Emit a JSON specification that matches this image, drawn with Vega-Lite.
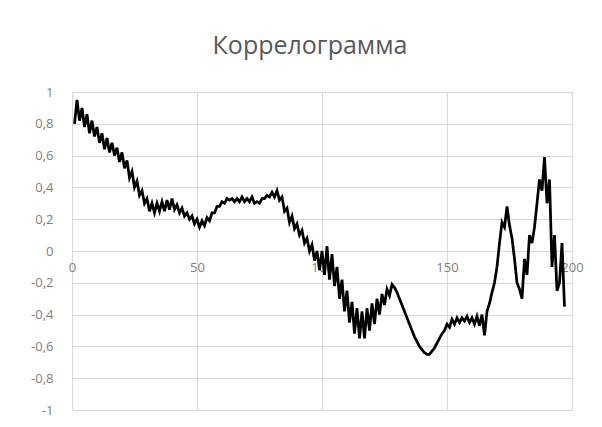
{
  "$schema": "https://vega.github.io/schema/vega-lite/v6.json",
  "width": 500,
  "height": 318,
  "autosize": {"type": "none"},
  "padding": {"left": 72, "top": 92, "right": 30, "bottom": 17},
  "background": "white",
  "title": {
    "text": "Коррелограмма",
    "font": "Open Sans",
    "fontSize": 25,
    "fontWeight": "normal",
    "color": "#595959",
    "anchor": "middle",
    "dx": -12,
    "offset": 27
  },
  "config": {
    "view": {"stroke": null},
    "axis": {
      "labelFont": "Open Sans",
      "labelFontSize": 13,
      "labelColor": "#808080",
      "gridColor": "#d9d9d9",
      "gridWidth": 1,
      "ticks": false,
      "domain": false,
      "title": null
    }
  },
  "data": {
    "values": [
      {"lag": 1, "r": 0.80}, {"lag": 2, "r": 0.95}, {"lag": 3, "r": 0.82}, {"lag": 4, "r": 0.90}, {"lag": 5, "r": 0.78},
      {"lag": 6, "r": 0.86}, {"lag": 7, "r": 0.74}, {"lag": 8, "r": 0.82}, {"lag": 9, "r": 0.72}, {"lag": 10, "r": 0.78},
      {"lag": 11, "r": 0.68}, {"lag": 12, "r": 0.74}, {"lag": 13, "r": 0.64}, {"lag": 14, "r": 0.71}, {"lag": 15, "r": 0.62},
      {"lag": 16, "r": 0.68}, {"lag": 17, "r": 0.60}, {"lag": 18, "r": 0.65}, {"lag": 19, "r": 0.56}, {"lag": 20, "r": 0.62},
      {"lag": 21, "r": 0.52}, {"lag": 22, "r": 0.57}, {"lag": 23, "r": 0.46}, {"lag": 24, "r": 0.50}, {"lag": 25, "r": 0.40},
      {"lag": 26, "r": 0.44}, {"lag": 27, "r": 0.35}, {"lag": 28, "r": 0.38}, {"lag": 29, "r": 0.30}, {"lag": 30, "r": 0.33},
      {"lag": 31, "r": 0.25}, {"lag": 32, "r": 0.30}, {"lag": 33, "r": 0.24}, {"lag": 34, "r": 0.30}, {"lag": 35, "r": 0.25},
      {"lag": 36, "r": 0.31}, {"lag": 37, "r": 0.25}, {"lag": 38, "r": 0.32}, {"lag": 39, "r": 0.26}, {"lag": 40, "r": 0.33},
      {"lag": 41, "r": 0.26}, {"lag": 42, "r": 0.29}, {"lag": 43, "r": 0.24}, {"lag": 44, "r": 0.27}, {"lag": 45, "r": 0.22},
      {"lag": 46, "r": 0.24}, {"lag": 47, "r": 0.20}, {"lag": 48, "r": 0.22}, {"lag": 49, "r": 0.17}, {"lag": 50, "r": 0.20},
      {"lag": 51, "r": 0.15}, {"lag": 52, "r": 0.19}, {"lag": 53, "r": 0.16}, {"lag": 54, "r": 0.21}, {"lag": 55, "r": 0.19},
      {"lag": 56, "r": 0.24}, {"lag": 57, "r": 0.24}, {"lag": 58, "r": 0.28}, {"lag": 59, "r": 0.28}, {"lag": 60, "r": 0.31},
      {"lag": 61, "r": 0.30}, {"lag": 62, "r": 0.33}, {"lag": 63, "r": 0.32}, {"lag": 64, "r": 0.33}, {"lag": 65, "r": 0.31},
      {"lag": 66, "r": 0.33}, {"lag": 67, "r": 0.31}, {"lag": 68, "r": 0.34}, {"lag": 69, "r": 0.31}, {"lag": 70, "r": 0.33},
      {"lag": 71, "r": 0.31}, {"lag": 72, "r": 0.34}, {"lag": 73, "r": 0.30}, {"lag": 74, "r": 0.31}, {"lag": 75, "r": 0.30},
      {"lag": 76, "r": 0.33}, {"lag": 77, "r": 0.33}, {"lag": 78, "r": 0.35}, {"lag": 79, "r": 0.34}, {"lag": 80, "r": 0.37},
      {"lag": 81, "r": 0.34}, {"lag": 82, "r": 0.38}, {"lag": 83, "r": 0.32}, {"lag": 84, "r": 0.34}, {"lag": 85, "r": 0.25},
      {"lag": 86, "r": 0.27}, {"lag": 87, "r": 0.18}, {"lag": 88, "r": 0.22}, {"lag": 89, "r": 0.14}, {"lag": 90, "r": 0.17},
      {"lag": 91, "r": 0.10}, {"lag": 92, "r": 0.13}, {"lag": 93, "r": 0.05}, {"lag": 94, "r": 0.08}, {"lag": 95, "r": 0.00},
      {"lag": 96, "r": 0.04}, {"lag": 97, "r": -0.06}, {"lag": 98, "r": 0.00}, {"lag": 99, "r": -0.12}, {"lag": 100, "r": 0.00},
      {"lag": 101, "r": -0.15}, {"lag": 102, "r": 0.03}, {"lag": 103, "r": -0.18}, {"lag": 104, "r": -0.02}, {"lag": 105, "r": -0.22},
      {"lag": 106, "r": -0.10}, {"lag": 107, "r": -0.30}, {"lag": 108, "r": -0.18}, {"lag": 109, "r": -0.38}, {"lag": 110, "r": -0.25},
      {"lag": 111, "r": -0.45}, {"lag": 112, "r": -0.32}, {"lag": 113, "r": -0.52}, {"lag": 114, "r": -0.36}, {"lag": 115, "r": -0.55},
      {"lag": 116, "r": -0.38}, {"lag": 117, "r": -0.55}, {"lag": 118, "r": -0.36}, {"lag": 119, "r": -0.50}, {"lag": 120, "r": -0.33},
      {"lag": 121, "r": -0.46}, {"lag": 122, "r": -0.30}, {"lag": 123, "r": -0.40}, {"lag": 124, "r": -0.27}, {"lag": 125, "r": -0.34},
      {"lag": 126, "r": -0.24}, {"lag": 127, "r": -0.28}, {"lag": 128, "r": -0.21}, {"lag": 129, "r": -0.23}, {"lag": 130, "r": -0.26},
      {"lag": 131, "r": -0.30}, {"lag": 132, "r": -0.34}, {"lag": 133, "r": -0.38}, {"lag": 134, "r": -0.42}, {"lag": 135, "r": -0.46},
      {"lag": 136, "r": -0.50}, {"lag": 137, "r": -0.54}, {"lag": 138, "r": -0.57}, {"lag": 139, "r": -0.60}, {"lag": 140, "r": -0.62},
      {"lag": 141, "r": -0.64}, {"lag": 142, "r": -0.65}, {"lag": 143, "r": -0.65}, {"lag": 144, "r": -0.63}, {"lag": 145, "r": -0.61},
      {"lag": 146, "r": -0.58}, {"lag": 147, "r": -0.55}, {"lag": 148, "r": -0.52}, {"lag": 149, "r": -0.50}, {"lag": 150, "r": -0.46},
      {"lag": 151, "r": -0.48}, {"lag": 152, "r": -0.43}, {"lag": 153, "r": -0.46}, {"lag": 154, "r": -0.42}, {"lag": 155, "r": -0.45},
      {"lag": 156, "r": -0.42}, {"lag": 157, "r": -0.44}, {"lag": 158, "r": -0.41}, {"lag": 159, "r": -0.45}, {"lag": 160, "r": -0.42},
      {"lag": 161, "r": -0.46}, {"lag": 162, "r": -0.41}, {"lag": 163, "r": -0.47}, {"lag": 164, "r": -0.40}, {"lag": 165, "r": -0.53},
      {"lag": 166, "r": -0.38}, {"lag": 167, "r": -0.33}, {"lag": 168, "r": -0.26}, {"lag": 169, "r": -0.20}, {"lag": 170, "r": -0.10},
      {"lag": 171, "r": 0.05}, {"lag": 172, "r": 0.18}, {"lag": 173, "r": 0.15}, {"lag": 174, "r": 0.28}, {"lag": 175, "r": 0.16},
      {"lag": 176, "r": 0.08}, {"lag": 177, "r": -0.05}, {"lag": 178, "r": -0.20}, {"lag": 179, "r": -0.24}, {"lag": 180, "r": -0.30},
      {"lag": 181, "r": -0.05}, {"lag": 182, "r": -0.15}, {"lag": 183, "r": 0.10}, {"lag": 184, "r": 0.05}, {"lag": 185, "r": 0.15},
      {"lag": 186, "r": 0.30}, {"lag": 187, "r": 0.45}, {"lag": 188, "r": 0.38}, {"lag": 189, "r": 0.59}, {"lag": 190, "r": 0.30},
      {"lag": 191, "r": 0.45}, {"lag": 192, "r": -0.10}, {"lag": 193, "r": 0.10}, {"lag": 194, "r": -0.25}, {"lag": 195, "r": -0.20},
      {"lag": 196, "r": 0.05}, {"lag": 197, "r": -0.35}
    ]
  },
  "mark": {"type": "line", "color": "#000000", "strokeWidth": 2.75, "strokeJoin": "miter", "clip": false},
  "encoding": {
    "x": {
      "field": "lag",
      "type": "quantitative",
      "scale": {"domain": [0, 200], "nice": false},
      "axis": {
        "values": [0, 50, 100, 150, 200],
        "offset": -159,
        "labelPadding": 10,
        "labelFlush": false,
        "grid": true
      }
    },
    "y": {
      "field": "r",
      "type": "quantitative",
      "scale": {"domain": [-1, 1], "nice": false},
      "axis": {
        "values": [-1, -0.8, -0.6, -0.4, -0.2, 0, 0.2, 0.4, 0.6, 0.8, 1],
        "labelPadding": 19,
        "labelExpr": "replace(replace(format(datum.value, '.1~f'), '.', ','), '\u2212', '-')",
        "grid": true
      }
    }
  }
}
